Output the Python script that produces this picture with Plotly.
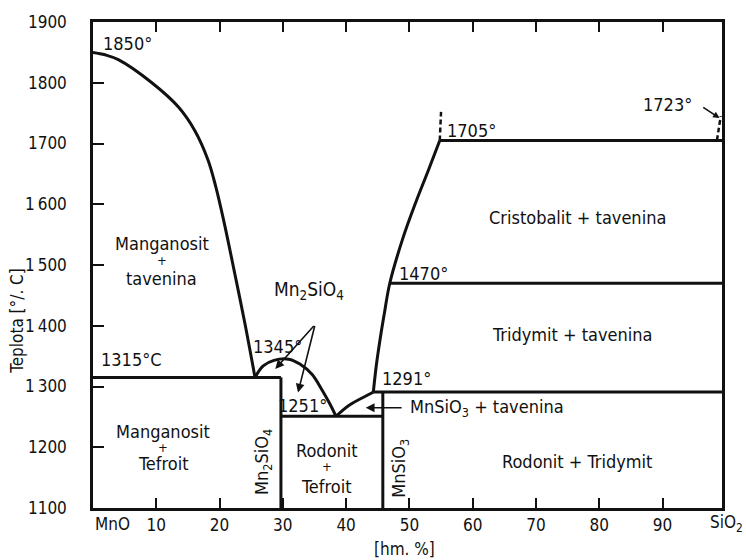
import plotly.graph_objects as go

FONT = "DejaVu Sans Condensed, Liberation Sans Narrow, DejaVu Sans"
INK = "#111111"
TXT = 18   # label size inside the diagram
TICK = 17  # tick label size

# Axis ticks: composition in wt. % SiO2, temperature in °C
x_ticks = [10, 20, 30, 40, 50, 60, 70, 80, 90]
x_tick_text = ["10", "20", "30", "40", "50", "60", "70", "80", "90"]
y_ticks = [1100, 1200, 1300, 1400, 1500, 1600, 1700, 1800, 1900]
y_tick_text = ["1100", "1200", "1\u2009300", "1\u2009400", "1\u2009500",
               "1\u2009600", "1700", "1800", "1900"]
x_end = 99.4  # SiO2 edge of the diagram

# Liquidus of manganosite (MnO side)
mno_liq_x = [0.0, 1.9, 4.0, 9.3, 13.5, 16.1, 18.2, 19.4, 20.7, 22.4, 24.0, 25.6]
mno_liq_t = [1850, 1846, 1838, 1800, 1760, 1721, 1672, 1629, 1571, 1486, 1404, 1315]

# Liquidus dome of tephroite Mn2SiO4
teph_liq_x = [25.6, 26.9, 28.6, 30.9, 32.7, 34.6, 36.1, 37.4, 38.4]
teph_liq_t = [1315, 1334, 1343, 1345, 1337, 1320, 1296, 1272, 1251]

# Liquidus of rhodonite MnSiO3 (eutectic -> peritectic)
rhod_liq_x = [38.4, 40.6, 43.8, 44.3]
rhod_liq_t = [1251, 1270, 1288, 1291]

# Liquidus of silica (tridymite / cristobalite)
sio2_liq_x = [44.3, 44.8, 45.4, 46.1, 46.9, 49.0, 51.0, 53.0, 54.8]
sio2_liq_t = [1291, 1337, 1380, 1424, 1470, 1545, 1603, 1656, 1705]

# Compositions of the compounds
mn2sio4_x = 29.7
mnsio3_x = 45.8

# Invariant temperatures
t_mno_eut = 1315
t_eut = 1251
t_perit = 1291
t_trid = 1470
t_crist = 1705

# Dashed metastable extensions
ext_mid_x = [54.8, 55.0]
ext_mid_t = [1705, 1752]
ext_right_x = [98.6, 98.9, 99.2]
ext_right_t = [1705, 1725, 1745]

fig = go.Figure()


def solid(xs, ts, smoothing=None, width=3.0):
    fig.add_trace(go.Scatter(
        x=xs, y=ts, mode="lines",
        line=dict(color=INK, width=width,
                  shape="spline" if smoothing else "linear",
                  smoothing=smoothing or 0),
        hoverinfo="skip", cliponaxis=False))


solid(mno_liq_x, mno_liq_t, smoothing=1.0)
solid(teph_liq_x, teph_liq_t, smoothing=1.0)
solid(rhod_liq_x, rhod_liq_t, smoothing=1.0)
solid(sio2_liq_x, sio2_liq_t, smoothing=1.0)

solid([0, mn2sio4_x], [t_mno_eut, t_mno_eut])
solid([mn2sio4_x, mn2sio4_x], [1100, t_mno_eut])
solid([mn2sio4_x, mnsio3_x], [t_eut, t_eut])
solid([mnsio3_x, mnsio3_x], [1100, t_perit])
solid([rhod_liq_x[-1], x_end], [t_perit, t_perit])
solid([sio2_liq_x[4], x_end], [t_trid, t_trid])
solid([sio2_liq_x[-1], x_end], [t_crist, t_crist])

for xs, ts in [(ext_mid_x, ext_mid_t), (ext_right_x, ext_right_t)]:
    fig.add_trace(go.Scatter(
        x=xs, y=ts, mode="lines",
        line=dict(color=INK, width=2.5, dash="5px,3px", shape="spline"),
        hoverinfo="skip", cliponaxis=False))


def label(x, y, text, size=TXT, anchor="center", angle=0):
    fig.add_annotation(x=x, y=y, text=text, showarrow=False, xanchor=anchor,
                       yanchor="middle", textangle=angle,
                       font=dict(family=FONT, size=size, color=INK))


# Temperature labels
label(1.3, 1865, "1850°", anchor="left")
label(1.0, 1345, "1315°C", anchor="left")
label(29.2, 1366, "1345°")
label(33.1, 1268, "1251°")
label(49.6, 1313, "1291°")
label(52.3, 1486, "1470°")
label(59.8, 1722, "1705°")
label(90.8, 1764, "1723°")

# Phase field labels
label(10.9, 1536, "Manganosit")
label(10.9, 1508, "+", size=13)
label(10.9, 1478, "tavenina")
label(34.2, 1458, "Mn<sub>2</sub>SiO<sub>4</sub>", size=19)
label(76.5, 1578, "Cristobalit + tavenina")
label(75.7, 1385, "Tridymit + tavenina")
label(49.7, 1265, "MnSiO<sub>3</sub> + tavenina", anchor="left")
label(11.1, 1226, "Manganosit")
label(11.1, 1200, "+", size=13)
label(11.1, 1173, "Tefroit")
label(36.9, 1194, "Rodonit")
label(36.9, 1168, "+", size=13)
label(36.9, 1136, "Tefroit")
label(76.5, 1177, "Rodonit + Tridymit")
label(26.9, 1176, "Mn<sub>2</sub>SiO<sub>4</sub>", angle=-90)
label(48.4, 1165, "MnSiO<sub>3</sub>", angle=-90)


def arrow(x0, t0, x1, t1, head=2, size=1.1):
    fig.add_annotation(x=x1, y=t1, ax=x0, ay=t0, xref="x", yref="y",
                       axref="x", ayref="y", text="", showarrow=True,
                       arrowhead=head, arrowsize=size, arrowwidth=1.6,
                       arrowcolor=INK)


# Pointers from the Mn2SiO4 label into the dome
arrow(35.1, 1402, 28.8, 1329)
arrow(35.1, 1402, 32.4, 1290)
# Pointer into the small MnSiO3 + liquid field
arrow(49.0, 1265, 43.1, 1265)
# Leader to the melting point of SiO2
arrow(96.2, 1761, 99.0, 1742, head=2, size=0.8)

# Axis end labels and titles
fig.add_annotation(x=0, y=-0.032, xref="x", yref="paper", text="MnO",
                   showarrow=False, xanchor="left", yanchor="middle",
                   font=dict(family=FONT, size=TICK, color=INK))
fig.add_annotation(x=x_end, y=-0.032, xref="x", yref="paper",
                   text="SiO<sub>2</sub>", showarrow=False, xanchor="center",
                   yanchor="middle", xshift=4,
                   font=dict(family=FONT, size=TICK, color=INK))
fig.add_annotation(x=49.3, y=-0.084, xref="x", yref="paper", text="[hm. %]",
                   showarrow=False, xanchor="center", yanchor="middle",
                   font=dict(family=FONT, size=TICK, color=INK))
fig.add_annotation(xref="paper", yref="y", x=-0.121, y=1408,
                   text="Teplota [°/. C]", textangle=-90, showarrow=False,
                   xanchor="center", yanchor="middle",
                   font=dict(family=FONT, size=17, color=INK))

axis_common = dict(showgrid=False, zeroline=False, showline=True,
                   linecolor=INK, linewidth=2.5, ticks="inside",
                   tickcolor=INK, tickwidth=2,
                   tickfont=dict(family=FONT, size=TICK, color=INK))

fig.update_xaxes(range=[0, x_end], tickvals=x_ticks, ticktext=x_tick_text,
                 ticklen=10, mirror="ticks", **axis_common)
fig.update_yaxes(range=[1100, 1900], tickvals=y_ticks, ticktext=y_tick_text,
                 ticklen=11, mirror=True, ticklabelstandoff=20, **axis_common)

fig.update_layout(width=746, height=560, showlegend=False,
                  margin=dict(l=93, r=24, t=19, b=52),
                  plot_bgcolor="white", paper_bgcolor="white",
                  font=dict(family=FONT, size=TXT, color=INK))

fig.write_html("out.html")
